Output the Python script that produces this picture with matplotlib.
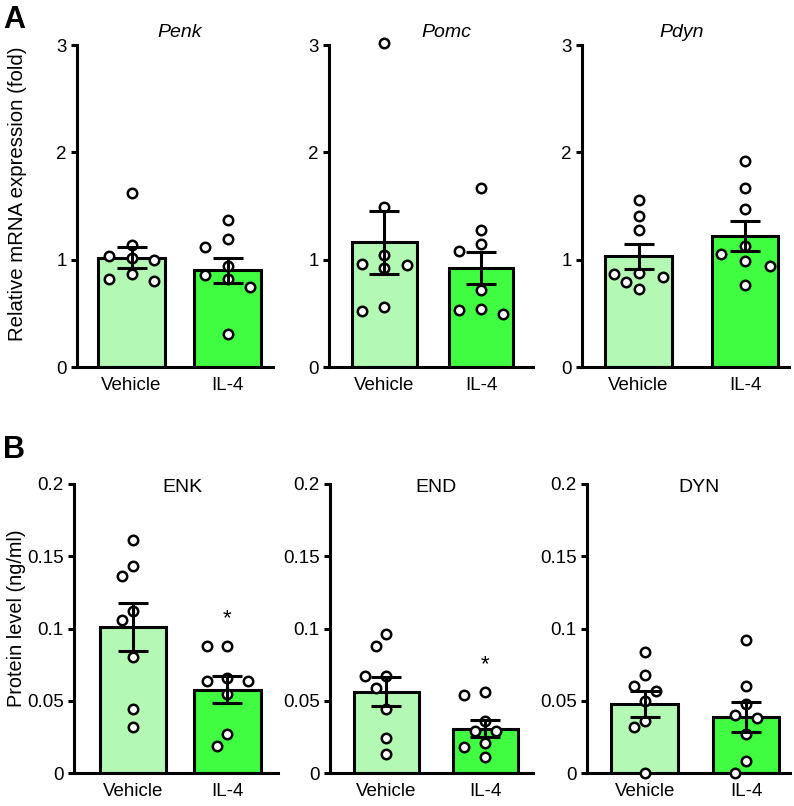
import matplotlib.pyplot as plt
import numpy as np
from matplotlib.ticker import FuncFormatter

plt.rcParams['font.family'] = ['Liberation Sans', 'DejaVu Sans']

groups = ['Vehicle', 'IL-4']
mrna_genes = ['Penk', 'Pomc', 'Pdyn']
protein_names = ['ENK', 'END', 'DYN']

# relative mRNA expression (fold), 8 animals per group
penk_veh = [1.62, 1.14, 1.03, 1.02, 1.00, 0.87, 0.82, 0.80]
penk_il4 = [1.37, 1.19, 1.12, 0.94, 0.86, 0.82, 0.75, 0.31]
pomc_veh = [3.02, 1.49, 1.04, 0.96, 0.95, 0.92, 0.56, 0.52]
pomc_il4 = [1.67, 1.28, 1.15, 1.08, 0.72, 0.54, 0.53, 0.49]
pdyn_veh = [1.56, 1.41, 1.28, 0.88, 0.87, 0.84, 0.79, 0.73]
pdyn_il4 = [1.92, 1.67, 1.47, 1.13, 1.05, 0.99, 0.94, 0.76]
mrna_mean = [[1.02, 0.90], [1.16, 0.92], [1.03, 1.22]]
mrna_sem = [[0.095, 0.12], [0.29, 0.15], [0.12, 0.14]]

# protein level (ng/ml)
enk_veh = [0.161, 0.143, 0.136, 0.112, 0.106, 0.080, 0.044, 0.032]
enk_il4 = [0.088, 0.088, 0.066, 0.064, 0.064, 0.055, 0.027, 0.019]
end_veh = [0.096, 0.088, 0.067, 0.067, 0.059, 0.044, 0.024, 0.013]
end_il4 = [0.056, 0.054, 0.036, 0.029, 0.029, 0.021, 0.018, 0.011]
dyn_veh = [0.084, 0.068, 0.060, 0.057, 0.050, 0.036, 0.032, 0.0]
dyn_il4 = [0.092, 0.060, 0.048, 0.040, 0.038, 0.027, 0.008, 0.0]
protein_mean = [[0.101, 0.0577], [0.0563, 0.0306], [0.0476, 0.0385]]
protein_sem = [[0.0167, 0.0092], [0.0102, 0.0058], [0.0090, 0.0103]]
protein_sig = [[False, True], [False, True], [False, False]]

mrna_points = [[penk_veh, penk_il4], [pomc_veh, pomc_il4], [pdyn_veh, pdyn_il4]]
protein_points = [[enk_veh, enk_il4], [end_veh, end_il4], [dyn_veh, dyn_il4]]

bar_colors = ['#b3f9b3', '#41fd41']
W, H = 794, 806


def swarm_offsets(ax, vals, step, min_px=12):
    vals = np.asarray(vals, dtype=float)
    ys = ax.transData.transform(np.column_stack([np.zeros(len(vals)), vals]))[:, 1]
    pxu = ax.transData.transform([[1, 0]])[0, 0] - ax.transData.transform([[0, 0]])[0, 0]
    placed = []
    offs = np.zeros(len(vals))
    for i in np.argsort(-vals, kind='stable'):
        for k in [0, -1, 1, -0.5, 0.5, -2, 2, -1.5, 1.5]:
            xp = k * step * pxu
            if all(np.hypot(xp - px, ys[i] - py) >= min_px for px, py in placed):
                break
        offs[i] = k * step
        placed.append((xp, ys[i]))
    return offs


def panel(left, top, width, bottom, xlim, bw, means, sems, points, ymax, yticks, step, sig=None):
    ax = fig.add_axes([left / W, 1 - bottom / H, width / W, (bottom - top) / H])
    x = np.arange(2)
    ax.set_xlim(*xlim)
    ax.set_ylim(0, ymax)
    ax.bar(x, means, width=bw, color=bar_colors, edgecolor='black', linewidth=2.2, zorder=1)
    for i in range(2):
        offs = swarm_offsets(ax, points[i], step)
        ax.plot(x[i] + offs, points[i], 'o', ms=6.8, mfc='white', mec='black', mew=1.8,
                clip_on=False, zorder=3)
        if sig is not None and sig[i]:
            ax.annotate('*', xy=(x[i], max(points[i])), xytext=(0, 15.5), textcoords='offset points',
                        ha='center', va='baseline', fontsize=16)
    ax.errorbar(x, means, yerr=sems, fmt='none', ecolor='black', elinewidth=2.2,
                capsize=11, capthick=2.2, zorder=4, clip_on=False)
    ax.spines[['top', 'right']].set_visible(False)
    ax.spines[['left', 'bottom']].set_linewidth(2.2)
    ax.set_yticks(yticks)
    ax.yaxis.set_major_formatter(FuncFormatter(lambda v, p: '%g' % v))
    ax.set_xticks(x)
    ax.set_xticklabels(groups)
    ax.tick_params(axis='y', length=4.5, width=2.2, pad=3, labelsize=13.5)
    ax.tick_params(axis='x', length=0, pad=7, labelsize=13.5)
    return ax


fig = plt.figure(figsize=(W / 100, H / 100), dpi=100)

# A: mRNA
a_left = [77, 329, 582]
a_width = [196, 204, 207]
a_xlim = [(-0.568, 1.474), (-0.573, 1.537), (-0.53, 1.41)]
a_bw = [0.70, 0.67, 0.62]
a_title_x = [0.525, 0.576, 0.483]
for j in range(3):
    ax = panel(a_left[j], 45, a_width[j], 367, a_xlim[j], a_bw[j], mrna_mean[j], mrna_sem[j],
               mrna_points[j], 3, [0, 1, 2, 3], 0.23)
    ax.annotate(mrna_genes[j], xy=(a_title_x[j], 1), xycoords='axes fraction', xytext=(0, 5.5),
                textcoords='offset points', ha='center', va='baseline', fontsize=14, style='italic')
    if j == 0:
        ax.set_ylabel('Relative mRNA expression (fold)', fontsize=14.7)
        ax.yaxis.set_label_coords(-0.255, 0.537)

# B: protein
b_left = [74, 330, 587]
b_width = [204, 203, 203]
b_xlim = [(-0.62, 1.533), (-0.57, 1.48), (-0.57, 1.434)]
b_bw = [0.70, 0.66, 0.66]
b_title_x = [0.534, 0.522, 0.552]
for j in range(3):
    ax = panel(b_left[j], 484, b_width[j], 773, b_xlim[j], b_bw[j], protein_mean[j], protein_sem[j],
               protein_points[j], 0.2, [0, 0.05, 0.1, 0.15, 0.2], 0.11, sig=protein_sig[j])
    ax.annotate(protein_names[j], xy=(b_title_x[j], 1), xycoords='axes fraction', xytext=(0, -6),
                textcoords='offset points', ha='center', va='baseline', fontsize=14)
    if j == 0:
        ax.set_ylabel('Protein level (ng/ml)', fontsize=14.3)
        ax.yaxis.set_label_coords(-0.235, 0.535)

fig.text(3 / W, 1 - 28 / H, 'A', fontsize=22, fontweight='bold', va='baseline')
fig.text(3 / W, 1 - 458 / H, 'B', fontsize=22, fontweight='bold', va='baseline')

plt.savefig('out.png', dpi=100)
